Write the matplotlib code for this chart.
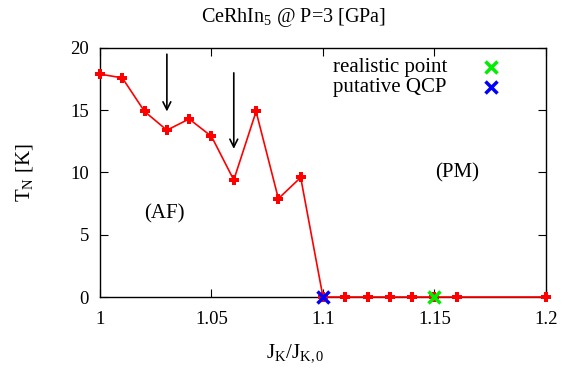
import matplotlib
matplotlib.use("Agg")
import matplotlib.pyplot as plt

plt.rcParams['font.family'] = ['Liberation Serif', 'DejaVu Serif']
plt.rcParams['mathtext.fontset'] = 'custom'
plt.rcParams['mathtext.rm'] = 'Liberation Serif'
plt.rcParams['mathtext.it'] = 'Liberation Serif:italic'

jk = [1.00, 1.01, 1.02, 1.03, 1.04, 1.05, 1.06, 1.07, 1.08, 1.09, 1.10,
      1.11, 1.12, 1.13, 1.14, 1.15, 1.16, 1.20]
tn = [17.9, 17.6, 14.9, 13.4, 14.3, 12.9, 9.4, 14.9, 7.9, 9.6, 0.0,
      0.0, 0.0, 0.0, 0.0, 0.0, 0.0, 0.0]
realistic = (1.15, 0.0)
qcp = (1.10, 0.0)
arrows = [(1.03, 19.5, 14.9), (1.06, 18.0, 11.9)]
xticks = [1.0, 1.05, 1.1, 1.15, 1.2]
xticklabels = ['1', '1.05', '1.1', '1.15', '1.2']
yticks = [0, 5, 10, 15, 20]

fig = plt.figure(figsize=(5.7, 3.72), dpi=100)
ax = fig.add_axes([0.1754, 0.2016, 0.7825, 0.6694])

ax.plot(jk, tn, color='red', lw=1.2, marker='P', ms=6.5, mew=0,
        clip_on=False, zorder=3)
ax.plot([realistic[0]], [realistic[1]], 'x', color='#00ee00', ms=8, mew=2.5,
        clip_on=False, zorder=4)
ax.plot([qcp[0]], [qcp[1]], 'x', color='blue', ms=8, mew=2.5,
        clip_on=False, zorder=4)

for x, y0, y1 in arrows:
    ax.annotate('', xy=(x, y1), xytext=(x, y0),
                arrowprops=dict(arrowstyle='->', color='black', lw=1.2,
                                mutation_scale=14, shrinkA=0, shrinkB=0))

ax.text(1.029, 6.7, '(AF)', fontsize=15, ha='center', va='center')
ax.text(1.16, 10.0, '(PM)', fontsize=15, ha='center', va='center')

# legend-like entries
ax.text(1.1556, 18.4, 'realistic point', fontsize=15, ha='right', va='center')
ax.plot([1.1753], [18.5], 'x', color='#00ee00', ms=8, mew=2.5)
ax.text(1.1556, 16.8, 'putative QCP', fontsize=15, ha='right', va='center')
ax.plot([1.1753], [16.9], 'x', color='blue', ms=8, mew=2.5)

ax.set_xlim(1.0, 1.2)
ax.set_ylim(0, 20)
ax.set_xticks(xticks)
ax.set_xticklabels(xticklabels)
ax.set_yticks(yticks)
ax.tick_params(direction='in', top=True, right=True, labelsize=13.5, length=6,
               pad=10)
ax.tick_params(axis='y', pad=8)
for s in ax.spines.values():
    s.set_linewidth(1.0)

ax.set_xlabel(r'J$_\mathrm{K}$/J$_\mathrm{K,0}$', fontsize=15)
ax.xaxis.set_label_coords(0.437, -0.18)
ax.set_ylabel(r'T$_\mathrm{N}$ [K]', fontsize=15)
ax.yaxis.set_label_coords(-0.146, 0.5)
ax.text(0.433, 1.124, r'CeRhIn$_\mathrm{5}$ @ P=3 [GPa]', fontsize=14.5,
        ha='center', va='center', transform=ax.transAxes)

fig.savefig('out.png', dpi=100)
